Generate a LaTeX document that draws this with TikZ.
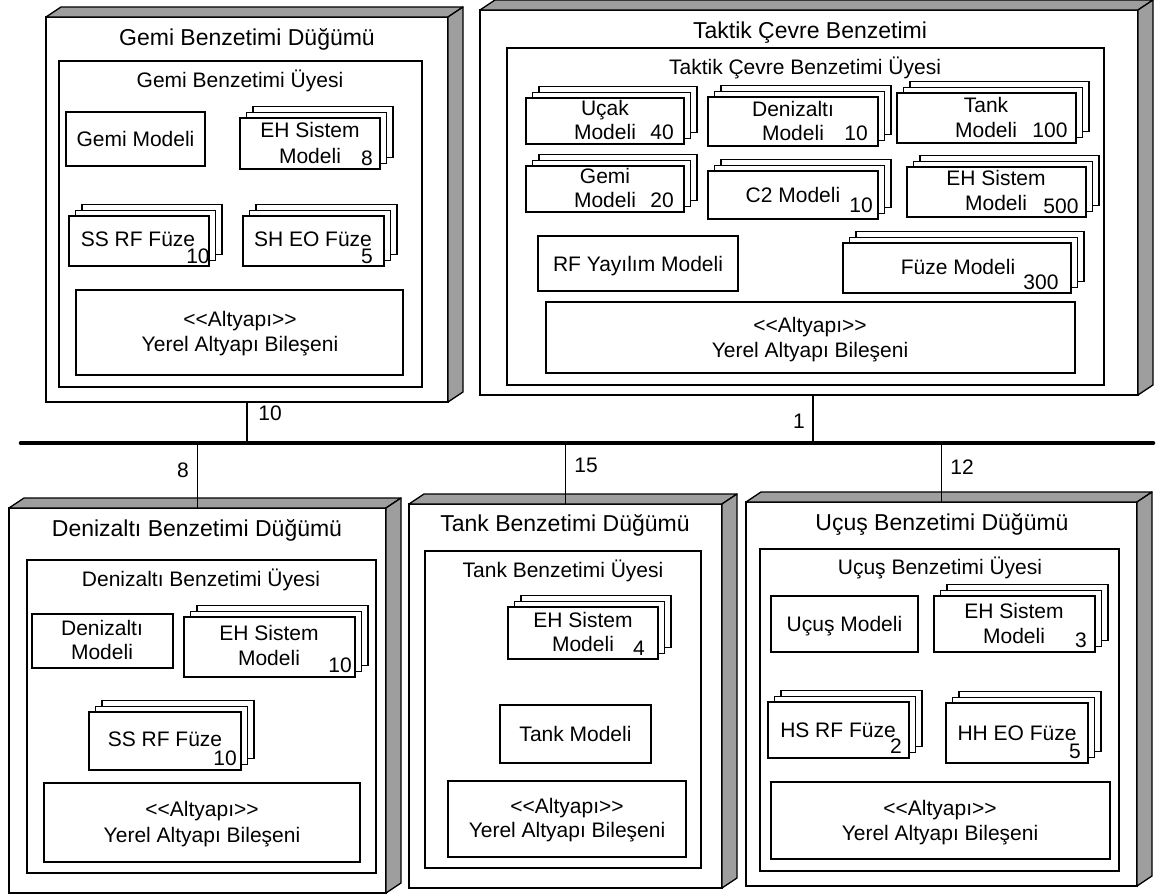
\documentclass[tikz,border=0pt]{standalone}
\usepackage{fontspec}
\setmainfont{Liberation Sans}
\definecolor{sidegray}{RGB}{158,158,158}
\tikzset{
  txt/.style={inner sep=0pt, text height=15pt, text depth=0pt, font=\fontsize{21}{25}\selectfont},
  ttl/.style={inner sep=0pt, text height=16.5pt, text depth=0pt, font=\fontsize{23}{27}\selectfont},
  box/.style={draw, line width=1.3pt, fill=white, inner sep=0pt, outer sep=0pt, anchor=north west},
  face/.style={draw, line width=1.3pt, fill=sidegray, line join=round},
  bus/.style={line width=4.6pt, line cap=round},
  link/.style={line width=1.4pt}
}
% plain rectangle given by its corners: name, x1, y1, x2, y2
\newcommand\rbox[5]{\node[box, minimum width=#4-#2, minimum height=#5-#3] (#1) at (#2,#3) {};}
% stack of three rectangles, front one given by its corners
\newcommand\stk[5]{%
  \node[box, minimum width=#4-#2, minimum height=#5-#3] (#1b) at (#2+13,#3-11.5) {};
  \node[box, minimum width=#4-#2, minimum height=#5-#3] (#1m) at (#2+6.5,#3-5.75) {};
  \node[box, minimum width=#4-#2, minimum height=#5-#3] (#1) at (#2,#3) {};}
% deployment node drawn as a box with top and side faces
\newcommand\devnode[5]{%
  \node[box, minimum width=#4-#2, minimum height=#5-#3] (#1) at (#2,#3) {};
  \filldraw[face] (#1.north west) -- ++(15,-10) -- ([shift={(15,-10)}]#1.north east) -- (#1.north east) -- cycle;
  \filldraw[face] (#1.north east) -- ++(15,-10) -- ([shift={(15,-10)}]#1.south east) -- (#1.south east) -- cycle;}
\begin{document}
\begin{tikzpicture}[x=1pt,y=-1pt]
\useasboundingbox (0,0) rectangle (1161,894);

% ---------------- Gemi Benzetimi Düğümü ----------------
\devnode{gemi}{46}{17}{448}{402}
\node[ttl] (gemiT) at (247,37) {Gemi Benzetimi Düğümü};
\rbox{gemiU}{59}{61}{422}{387}
\node[txt] (gemiUT) at (240,80) {Gemi Benzetimi Üyesi};
\rbox{gemiM}{66}{112}{205}{166}
\node[txt] at (gemiM.center) {Gemi Modeli};
\stk{gemiEH}{240}{118}{380}{169}
\node[txt] (gemiEH1) at (310,130) {EH Sistem};
\node[txt] (gemiEH2) at (310,156) {Modeli};
\node[txt] (gemiEH3) at (367,158) {8};
\stk{gemiSS}{69}{216}{209}{266}
\node[txt] (gemiSS1) at (138,239) {SS RF Füze};
\node[txt] (gemiSS2) at (198,256) {10};
\stk{gemiSH}{243}{216}{384}{266}
\node[txt] (gemiSH1) at (313,239) {SH EO Füze};
\node[txt] (gemiSH2) at (367,256) {5};
\rbox{gemiA}{76}{290}{403}{375}
\node[txt] (gemiA1) at (240,319) {<{}<Altyapı>{}>};
\node[txt] (gemiA2) at (240,344) {Yerel Altyapı Bileşeni};

% ---------------- Taktik Çevre Benzetimi ----------------
\devnode{tak}{480}{10}{1138}{395}
\node[ttl] (takT) at (810,30) {Taktik Çevre Benzetimi};
\rbox{takU}{507}{48}{1104}{385}
\node[txt] (takUT) at (805,67) {Taktik Çevre Benzetimi Üyesi};
\stk{takUc}{526}{98}{684}{144}
\node[txt] (takUc1) at (605,108) {Uçak};
\node[txt] (takUc2) at (605,132) {Modeli};
\node[txt] (takUc3) at (662,132) {40};
\stk{takDz}{708}{97}{878}{146}
\node[txt] (takDz1) at (793,109) {Denizaltı};
\node[txt] (takDz2) at (793,133) {Modeli};
\node[txt] (takDz3) at (856,133) {10};
\stk{takTk}{897}{93}{1076}{143}
\node[txt] (takTk1) at (986,105) {Tank};
\node[txt] (takTk2) at (986,130) {Modeli};
\node[txt] (takTk3) at (1050,130) {100};
\stk{takGm}{526}{166}{684}{212}
\node[txt] (takGm1) at (605,176) {Gemi};
\node[txt] (takGm2) at (605,200) {Modeli};
\node[txt] (takGm3) at (662,200) {20};
\stk{takC2}{708}{171}{878}{219}
\node[txt] (takC21) at (793,195) {C2 Modeli};
\node[txt] (takC22) at (861,205) {10};
\stk{takEH}{907}{167}{1086}{217}
\node[txt] (takEH1) at (996,178) {EH Sistem};
\node[txt] (takEH2) at (996,203) {Modeli};
\node[txt] (takEH3) at (1061,206) {500};
\rbox{takRF}{538}{236}{738}{291}
\node[txt] at (takRF.center) {RF Yayılım Modeli};
\stk{takFz}{843}{243}{1071}{293}
\node[txt] (takFz1) at (958,267) {Füze Modeli};
\node[txt] (takFz2) at (1041,282) {300};
\rbox{takA}{546}{302}{1075}{373}
\node[txt] (takA1) at (810,325) {<{}<Altyapı>{}>};
\node[txt] (takA2) at (810,350) {Yerel Altyapı Bileşeni};

% ---------------- Denizaltı Benzetimi Düğümü ----------------
\devnode{dnz}{9}{508}{386}{893}
\node[ttl] (dnzT) at (197,528) {Denizaltı Benzetimi Düğümü};
\rbox{dnzU}{27}{560}{376}{873}
\node[txt] (dnzUT) at (201,579) {Denizaltı Benzetimi Üyesi};
\rbox{dnzM}{32}{614}{173}{668}
\node[txt] (dnzM1) at (102,628) {Denizaltı};
\node[txt] (dnzM2) at (102,652) {Modeli};
\stk{dnzEH}{184}{617}{355}{677}
\node[txt] (dnzEH1) at (269,633) {EH Sistem};
\node[txt] (dnzEH2) at (269,658) {Modeli};
\node[txt] (dnzEH3) at (340,665) {10};
\stk{dnzSS}{89}{712}{241}{770}
\node[txt] (dnzSS1) at (165,739) {SS RF Füze};
\node[txt] (dnzSS2) at (225,758) {10};
\rbox{dnzA}{44}{783}{360}{862}
\node[txt] (dnzA1) at (202,809) {<{}<Altyapı>{}>};
\node[txt] (dnzA2) at (202,835) {Yerel Altyapı Bileşeni};

% ---------------- Tank Benzetimi Düğümü ----------------
\devnode{tnk}{409}{504}{722}{888}
\node[ttl] (tnkT) at (565,523) {Tank Benzetimi Düğümü};
\rbox{tnkU}{425}{551}{701}{868}
\node[txt] (tnkUT) at (563,570) {Tank Benzetimi Üyesi};
\stk{tnkEH}{508}{607}{658}{659}
\node[txt] (tnkEH1) at (583,620) {EH Sistem};
\node[txt] (tnkEH2) at (583,644) {Modeli};
\node[txt] (tnkEH3) at (639,648) {4};
\rbox{tnkM}{500}{705}{651}{763}
\node[txt] at (tnkM.center) {Tank Modeli};
\rbox{tnkA}{448}{781}{686}{857}
\node[txt] (tnkA1) at (567,806) {<{}<Altyapı>{}>};
\node[txt] (tnkA2) at (567,830) {Yerel Altyapı Bileşeni};

% ---------------- Uçuş Benzetimi Düğümü ----------------
\devnode{ucs}{746}{502}{1137}{886}
\node[ttl] (ucsT) at (942,522) {Uçuş Benzetimi Düğümü};
\rbox{ucsU}{760}{549}{1119}{871}
\node[txt] (ucsUT) at (940,567) {Uçuş Benzetimi Üyesi};
\rbox{ucsM}{771}{596}{918}{652}
\node[txt] at (ucsM.center) {Uçuş Modeli};
\stk{ucsEH}{934}{596}{1095}{652}
\node[txt] (ucsEH1) at (1014,611) {EH Sistem};
\node[txt] (ucsEH2) at (1014,636) {Modeli};
\node[txt] (ucsEH3) at (1081,640) {3};
\stk{ucsHS}{768}{702}{909}{758}
\node[txt] (ucsHS1) at (838,730) {HS RF Füze};
\node[txt] (ucsHS2) at (896,746) {2};
\stk{ucsHH}{946}{703}{1088}{763}
\node[txt] (ucsHH1) at (1017,733) {HH EO Füze};
\node[txt] (ucsHH2) at (1075,751) {5};
\rbox{ucsA}{771}{782}{1110}{859}
\node[txt] (ucsA1) at (940,808) {<{}<Altyapı>{}>};
\node[txt] (ucsA2) at (940,833) {Yerel Altyapı Bileşeni};

% ---------------- network bus and links ----------------
\coordinate (busL) at (21,443);
\coordinate (busR) at (1153,443);
\coordinate (tapTak) at (813,443);
\draw[bus] (busL) -- (busR);
\draw[link] (gemi.south) -- (gemi.south |- busL);
\draw[link] (tapTak |- tak.south) -- (tapTak);
\draw[link] (dnz.north) -- (dnz.north |- busL);
\draw[link] (tnk.north) -- (tnk.north |- busL);
\draw[link] (ucs.north) -- (ucs.north |- busL);
\node[txt] (lGemi) at (270,413) {10};
\node[txt] (lTak) at (799,421) {1};
\node[txt] (lDnz) at (183,470) {8};
\node[txt] (lTnk) at (586,465) {15};
\node[txt] (lUcs) at (962,467) {12};
\end{tikzpicture}
\end{document}
